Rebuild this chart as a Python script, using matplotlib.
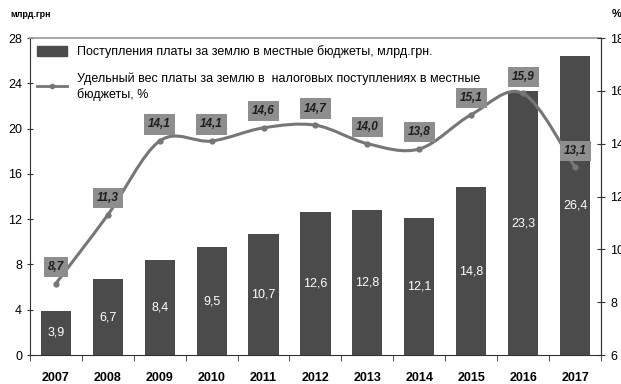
import numpy as np
import matplotlib
matplotlib.use("Agg")
import matplotlib.pyplot as plt
from matplotlib.path import Path
from matplotlib.patches import PathPatch, Patch
from matplotlib.lines import Line2D

plt.rcParams['font.family'] = ['Liberation Sans', 'DejaVu Sans']

years = ['2007', '2008', '2009', '2010', '2011', '2012', '2013', '2014', '2015', '2016', '2017']
revenue = [3.9, 6.7, 8.4, 9.5, 10.7, 12.6, 12.8, 12.1, 14.8, 23.3, 26.4]
share = [8.7, 11.3, 14.1, 14.1, 14.6, 14.7, 14.0, 13.8, 15.1, 15.9, 13.1]

bar_label = 'Поступления платы за землю в местные бюджеты, млрд.грн.'
line_label = 'Удельный вес платы за землю в  налоговых поступлениях в местные\nбюджеты, %'

bar_color = '#4b4b4b'
line_color = '#767676'
box_color = '#8e8e8e'


def smooth_path(xs, ys):
    # Catmull-Rom style bezier through the points (like a smoothed spreadsheet line)
    pts = np.column_stack([xs, ys]).astype(float)
    verts = [pts[0]]
    codes = [Path.MOVETO]
    n = len(pts)
    for i in range(n - 1):
        p0 = pts[i - 1] if i > 0 else pts[i]
        p1 = pts[i]
        p2 = pts[i + 1]
        p3 = pts[i + 2] if i + 2 < n else pts[i + 1]
        c1 = p1 + (p2 - p0) / 6.0
        c2 = p2 - (p3 - p1) / 6.0
        verts += [c1, c2, p2]
        codes += [Path.CURVE4] * 3
    return Path(verts, codes)


fig = plt.figure(figsize=(6.21, 3.84), dpi=100)
ax = fig.add_axes([0.048, 0.0755, 0.92, 0.8255])
x = np.arange(len(years))

bars = ax.bar(x, revenue, width=0.58, color=bar_color, zorder=2)
for xi, v in zip(x, revenue):
    ax.text(xi, v / 2, f'{v:.1f}'.replace('.', ','), color='white',
            ha='center', va='center', fontsize=9, zorder=3)

ax.set_xlim(-0.5, len(years) - 0.5)
ax.set_ylim(0, 28)
ax.set_yticks(range(0, 29, 4))
ax.set_xticks(x)
ax.set_xticklabels(years, fontweight='bold', fontsize=9)
ax.set_xticks(np.arange(-0.5, len(years), 1), minor=True)
ax.tick_params(axis='x', which='major', length=0, pad=12)
ax.tick_params(axis='x', which='minor', length=4, direction='out', color='#333333')
ax.tick_params(axis='y', length=4, direction='inout', labelsize=9, color='#333333')

for side in ['left', 'bottom', 'right']:
    ax.spines[side].set_color('#333333')
ax.spines['top'].set_color('#999999')
ax.spines['top'].set_linewidth(1.2)

ax2 = ax.twinx()
ax2.set_ylim(6, 18)
ax2.set_yticks(range(6, 19, 2))
ax2.tick_params(axis='y', length=6, direction='inout', labelsize=9, color='#333333')
for s in ax2.spines.values():
    s.set_visible(False)
ax2.spines['right'].set_visible(True)
ax2.spines['right'].set_color('#333333')

ax2.add_patch(PathPatch(smooth_path(x, share), fill=False, edgecolor=line_color,
                        linewidth=2.2, zorder=3))
ax2.plot(x, share, linestyle='none', marker='o', markersize=3.5,
         color=line_color, zorder=4)
for xi, v in zip(x, share):
    ax2.annotate(f'{v:.1f}'.replace('.', ','), (xi, v), xytext=(0, 12),
                 textcoords='offset points', ha='center', va='center',
                 fontsize=8.5, fontweight='bold', fontstyle='italic', color='#1e1e1e',
                 bbox=dict(boxstyle='square,pad=0.35', fc=box_color, ec='none'),
                 zorder=5)

handles = [Patch(color=bar_color),
           Line2D([], [], color=line_color, lw=2, marker='o', markersize=3)]
leg = ax2.legend(handles, [bar_label, line_label], loc='upper left',
                 bbox_to_anchor=(0.0, 1.0), frameon=False, fontsize=9,
                 handlelength=2.4, handleheight=0.9, labelspacing=1.1,
                 borderaxespad=0.2)
for t in leg.get_texts():
    t.set_linespacing(1.35)

fig.text(0.016, 0.955, 'млрд.грн', fontsize=6.5, fontweight='bold', ha='left')
fig.text(0.985, 0.955, '%', fontsize=8, fontweight='bold', ha='left')

fig.savefig('out.png', dpi=100)
